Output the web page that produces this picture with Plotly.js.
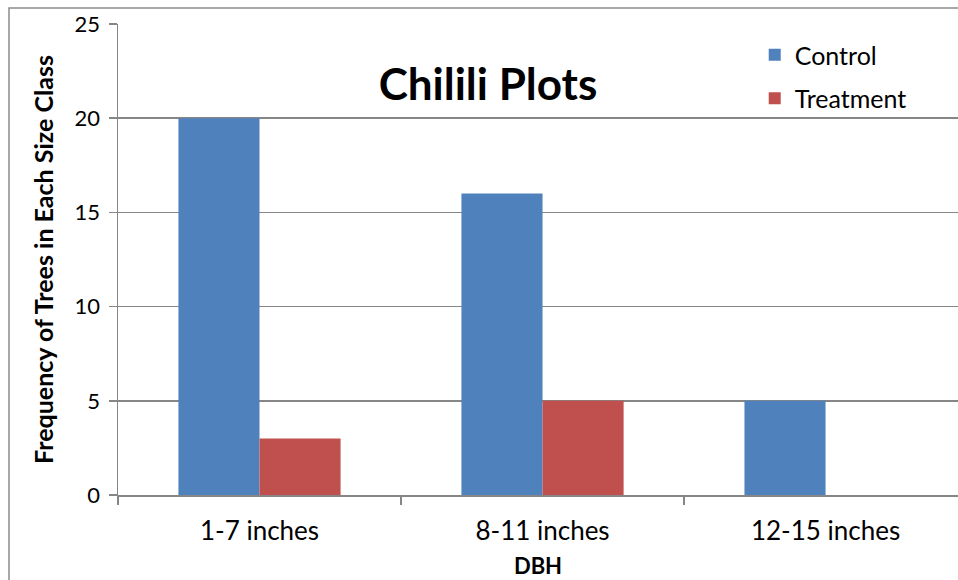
<!DOCTYPE html>
<html>
<head>
<meta charset="utf-8">
<script src="https://cdn.plot.ly/plotly-3.0.1.min.js"></script>
<style>html,body{margin:0;padding:0;background:#fff;}#chart{width:958px;height:580px;}</style>
</head>
<body>
<div id="chart"></div>
<script>
const categories = ["1-7 inches", "8-11 inches", "12-15 inches"];
const controlValues = [20, 16, 5];
const treatmentValues = [3, 5, 0];
const seriesNames = ["Control", "Treatment"];
const yTickValues = [0, 5, 10, 15, 20, 25];

const FONT = "Lato, 'Open Sans', sans-serif";
const GRID = "#868686";

const data = [
  {type: "bar", name: seriesNames[0], legendgroup: "a", x: categories, y: controlValues, marker: {color: "#4F81BD"}},
  {type: "bar", name: seriesNames[1], legendgroup: "b", x: categories, y: treatmentValues, marker: {color: "#C0504D"}}
];

const layout = {
  width: 958, height: 580,
  margin: {l: 118, r: 0, t: 24, b: 85},
  paper_bgcolor: "#fff", plot_bgcolor: "#fff",
  barmode: "group", bargap: 0.427, bargroupgap: 0,
  font: {family: FONT, color: "#000", size: 20},
  title: {text: "<b>Chilili Plots</b>", font: {family: FONT, size: 44, color: "#000"},
          xref: "container", x: 488/958, xanchor: "center",
          yref: "container", y: 1 - 85/580, yanchor: "middle"},
  showlegend: true,
  legend: {x: 0.758, y: 0.983, xanchor: "left", yanchor: "top", bgcolor: "rgba(0,0,0,0)",
           font: {family: FONT, size: 25, color: "#000"}, tracegroupgap: 8},
  xaxis: {
    type: "category", range: [-0.5, 2.468], showgrid: false,
    showline: true, linecolor: GRID, linewidth: 1.5,
    ticks: "outside", tickson: "boundaries", ticklen: 8, tickcolor: GRID, tickwidth: 1.5,
    tickfont: {family: FONT, size: 26, color: "#000"}, ticklabelstandoff: 12,
    title: {text: "<b>DBH</b>", font: {family: FONT, size: 22, color: "#000"}, standoff: 14}
  },
  yaxis: {
    range: [0, 25], tickvals: yTickValues, showgrid: true, gridcolor: GRID, gridwidth: 1.5,
    zeroline: false, showline: true, linecolor: GRID, linewidth: 1.5,
    ticks: "outside", ticklen: 8, tickcolor: GRID, tickwidth: 1.5,
    tickfont: {family: FONT, size: 22, color: "#000"}, ticklabelstandoff: 4,
    title: {text: "<b>Frequency of Trees in Each Size Class</b>", font: {family: FONT, size: 25, color: "#000"}, standoff: 14}
  },
  shapes: [
    {type: "rect", xref: "paper", yref: "paper", x0: (9-118)/840, x1: 1.1, y0: -0.3, y1: 1 + 16/471,
     line: {color: "#8c8c8c", width: 1.5}, fillcolor: "rgba(0,0,0,0)", layer: "below"}
  ]
};

Plotly.newPlot("chart", data, layout, {displayModeBar: false, staticPlot: true});
</script>
</body>
</html>
